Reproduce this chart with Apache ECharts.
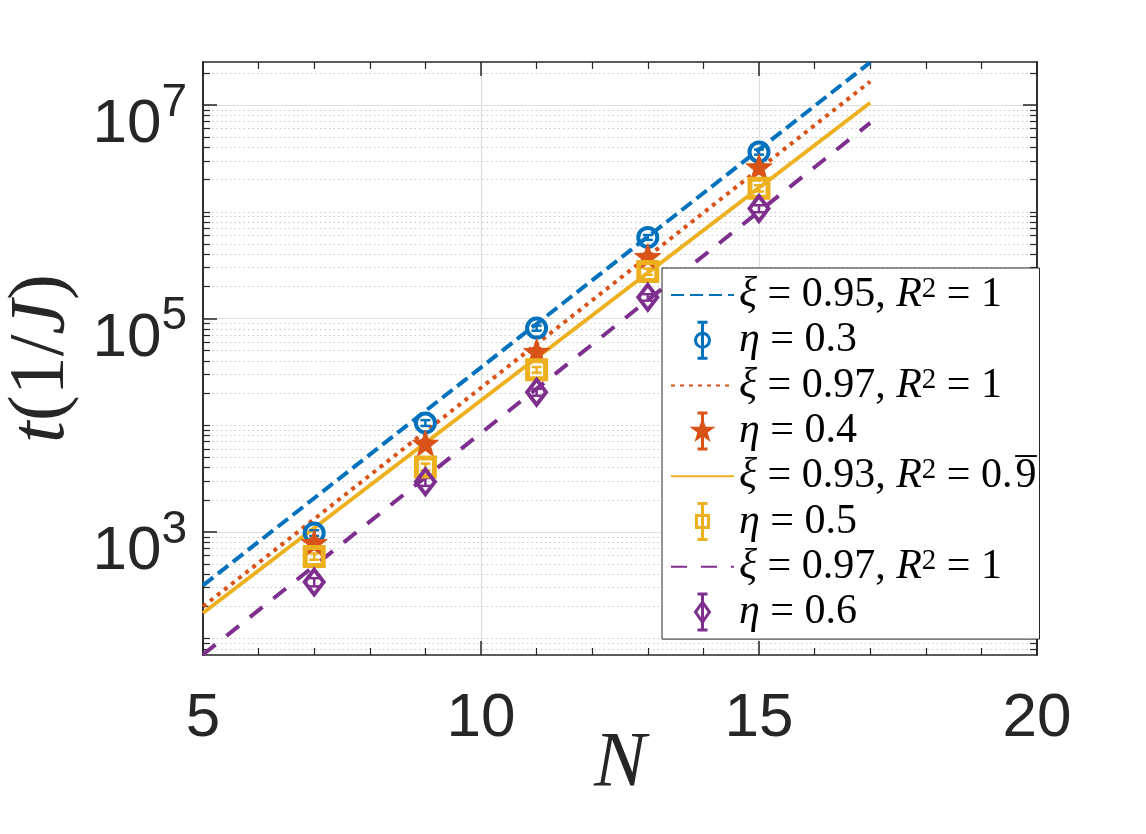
<!DOCTYPE html>
<html>
<head>
<meta charset="utf-8">
<script src="https://cdn.jsdelivr.net/npm/echarts@6/dist/echarts.min.js"></script>
<style>
  html, body { margin: 0; padding: 0; background: #fff; }
  #chart-main { width: 1146px; height: 834px; }
</style>
</head>
<body>
<div id="chart-main"></div>
<script>
const chartDom = document.getElementById('chart-main');
const myChart = echarts.init(chartDom);

// system sizes where the runs were done
const sizes = [7, 9, 11, 13, 15];
const tEta03 = [977, 10500, 81300, 575000, 3630000];
const tEta04 = [794, 6760, 49000, 380000, 2630000];
const tEta05 = [589, 4070, 33100, 275000, 1660000];
const tEta06 = [339, 2950, 20400, 158000, 1070000];
// error bar half widths (mostly hidden behind the markers)
const errEta03 = [60, 650, 4500, 30000, 200000];
const errEta04 = [70, 500, 3500, 25000, 180000];
const errEta05 = [40, 300, 2000, 18000, 110000];
const errEta06 = [30, 250, 1500, 11000, 80000];

// exponential fits, value at both ends of the fit range
const fitN = [5, 17];
const fitXi095 = [316, 25100000];
const fitXi097a = [200, 16600000];
const fitXi093 = [174, 10500000];
const fitXi097b = [71, 6800000];

// axis ticks
const xMajor = [5, 10, 15, 20];
const yMajor = [1e3, 1e5, 1e7];
const yMin = 70.3;
const yMax = 2.53e7;
// minor ticks: 2..9 x 10^n plus the unlabelled decades
const yMinor = [];
for (let e = 1; e <= 7; e++) {
    for (let k = 1; k <= 9; k++) {
        const v = k * Math.pow(10, e);
        if (v >= yMin && v <= yMax && yMajor.indexOf(v) < 0) yMinor.push(v);
    }
}

const blue = '#0072BD', orange = '#D95319', yellow = '#EDB120', purple = '#7E2F8E';
const axisColor = '#262626';
const serif = '"Liberation Serif", "DejaVu Serif", serif';
const sans = '"Liberation Sans", Arial, sans-serif';

const starPath = 'path://M0,-10L2.35,-3.24L9.51,-3.09L3.8,1.24L5.88,8.09L0,4L-5.88,8.09L-3.8,1.24L-9.51,-3.09L-2.35,-3.24Z';

// legend icons: marker + vertical error bar
const barPart = 'M0,-18L0,18M-5,-18L5,-18M-5,18L5,18';
const iconCircle = 'path://' + barPart + 'M-7,0A7,7,0,1,1,7,0A7,7,0,1,1,-7,0Z';
const iconStar = 'path://' + barPart + 'M0,-9L2.1,-2.9L8.6,-2.8L3.4,1.1L5.3,7.3L0,3.6L-5.3,7.3L-3.4,1.1L-8.6,-2.8L-2.1,-2.9Z';
const iconSquare = 'path://' + barPart + 'M-6,-6L6,-6L6,6L-6,6Z';
const iconDiamond = 'path://' + barPart + 'M0,-10L7,0L0,10L-7,0Z';

// {o|} is a zero-width bar drawn over the following 9 (repeating decimal)
const legendLabels = {
    'fit1': '{i|ξ}{n| = 0.95, }{i|R}{s|2}{n| = 1}',
    'eta1': '{i|η}{n| = 0.3}',
    'fit2': '{i|ξ}{n| = 0.97, }{i|R}{s|2}{n| = 1}',
    'eta2': '{i|η}{n| = 0.4}',
    'fit3': '{i|ξ}{n| = 0.93, }{i|R}{s|2}{n| = 0.}{o|\u00AF}{n|9}',
    'eta3': '{i|η}{n| = 0.5}',
    'fit4': '{i|ξ}{n| = 0.97, }{i|R}{s|2}{n| = 1}',
    'eta4': '{i|η}{n| = 0.6}'
};

function fitSeries(name, values, color, dash) {
    return {
        name: name,
        type: 'line',
        symbol: 'none',
        data: fitN.map((n, i) => [n, values[i]]),
        lineStyle: { color: color, width: 4, type: dash },
        itemStyle: { color: color },
        z: 2
    };
}

function errorSeries(name, values, errs, color) {
    return {
        name: name,
        type: 'custom',
        data: sizes.map((n, i) => [n, values[i] - errs[i], values[i] + errs[i]]),
        encode: { x: 0, y: [1, 2] },
        itemStyle: { color: color },
        z: 3,
        renderItem: function (params, api) {
            const lo = api.coord([api.value(0), api.value(1)]);
            const hi = api.coord([api.value(0), api.value(2)]);
            const w = 5;
            const style = { stroke: color, lineWidth: 2.5, fill: null };
            return {
                type: 'group',
                children: [
                    { type: 'line', shape: { x1: lo[0], y1: lo[1], x2: hi[0], y2: hi[1] }, style: style },
                    { type: 'line', shape: { x1: lo[0] - w, y1: lo[1], x2: lo[0] + w, y2: lo[1] }, style: style },
                    { type: 'line', shape: { x1: hi[0] - w, y1: hi[1], x2: hi[0] + w, y2: hi[1] }, style: style }
                ]
            };
        }
    };
}

function markerSeries(name, values, symbol, size, itemStyle) {
    return {
        name: name,
        type: 'scatter',
        symbol: symbol,
        symbolSize: size,
        data: sizes.map((n, i) => [n, values[i]]),
        itemStyle: Object.assign({ opacity: 1 }, itemStyle),
        z: 4
    };
}

const clear = 'rgba(0,0,0,0)';

const series = [
    fitSeries('fit1', fitXi095, blue, [13, 6]),
    errorSeries('eta1', tEta03, errEta03, blue),
    markerSeries('eta1', tEta03, 'circle', 19, { color: clear, borderColor: blue, borderWidth: 4 }),
    fitSeries('fit2', fitXi097a, orange, [4, 5]),
    errorSeries('eta2', tEta04, errEta04, orange),
    markerSeries('eta2', tEta04, starPath, 26, { color: orange, borderColor: orange, borderWidth: 1 }),
    fitSeries('fit3', fitXi093, yellow, 'solid'),
    errorSeries('eta3', tEta05, errEta05, yellow),
    markerSeries('eta3', tEta05, 'rect', 18, { color: clear, borderColor: yellow, borderWidth: 5 }),
    fitSeries('fit4', fitXi097b, purple, [16, 14]),
    errorSeries('eta4', tEta06, errEta06, purple),
    markerSeries('eta4', tEta06, 'diamond', [19, 25], { color: clear, borderColor: purple, borderWidth: 4 })
];

const tickLine = { color: axisColor, width: 1.5 };

function xAxisDef(pos, withLabels) {
    return {
        type: 'value', position: pos, min: 5, max: 20, interval: 5,
        axisLine: { show: true, onZero: false, lineStyle: tickLine },
        axisTick: { inside: true, length: 14, lineStyle: tickLine },
        minorTick: { show: true, splitNumber: 5, length: 7, lineStyle: { color: axisColor, width: 1.2 } },
        axisLabel: {
            show: withLabels, fontSize: 62, fontFamily: sans, color: axisColor, margin: 33,
            customValues: xMajor
        },
        splitLine: { show: withLabels, lineStyle: { color: '#dedede', width: 1.2 } },
        name: withLabels ? 'N' : '',
        nameLocation: 'middle',
        nameMoveOverlap: false,
        nameGap: 70,
        nameTextStyle: { fontFamily: serif, fontStyle: 'italic', fontSize: 78, color: axisColor }
    };
}

function yAxisDef(pos, major, withLabels) {
    const vals = major ? yMajor : yMinor;
    return {
        type: 'log', position: pos, min: yMin, max: yMax, logBase: 10,
        axisLine: { show: true, onZero: false, lineStyle: tickLine },
        axisTick: { inside: true, length: major ? 14 : 7, customValues: vals, lineStyle: { color: axisColor, width: major ? 1.5 : 1.2 } },
        axisLabel: {
            show: withLabels, customValues: yMajor, margin: 16,
            formatter: v => '{b|10}{s|' + Math.round(Math.log10(v)) + '}',
            rich: {
                b: { fontSize: 62, fontFamily: sans, color: axisColor, lineHeight: 62, padding: [40, 0, 0, 0] },
                s: { fontSize: 46, fontFamily: sans, color: axisColor, lineHeight: 46, verticalAlign: 'top', padding: [6, 0, 0, 0] }
            }
        },
        splitLine: {
            show: pos === 'left',
            lineStyle: major ? { color: '#dedede', width: 1.2 } : { color: '#c8c8c8', width: 1.2, type: [1.5, 3] }
        },
        name: withLabels ? '{i|t}{n|(1/}{i|J}{n|)}' : '',
        nameLocation: 'middle',
        nameGap: 122,
        nameTextStyle: {
            rich: {
                i: { fontFamily: serif, fontStyle: 'italic', fontSize: 78, color: axisColor },
                n: { fontFamily: serif, fontSize: 78, color: axisColor }
            }
        }
    };
}

const legendRich = {
    i: { fontFamily: serif, fontStyle: 'italic', fontSize: 42, lineHeight: 40, color: '#000' },
    n: { fontFamily: serif, fontSize: 42, lineHeight: 40, color: '#000' },
    o: { fontFamily: serif, fontSize: 42, lineHeight: 40, width: 0, padding: [0, 0, 0, 3], color: '#000' },
    s: { fontFamily: serif, fontSize: 29, lineHeight: 20, verticalAlign: 'top', color: '#000' }
};

function legendMarker(name, icon, color, fill) {
    return { name: name, icon: icon, itemStyle: { color: fill, borderColor: color, borderWidth: 3 } };
}

// line entries: hide the symbol that the line legend icon adds
function legendLine(name) {
    return { name: name, itemStyle: { opacity: 0 } };
}

const option = {
    animation: false,
    backgroundColor: '#fff',
    grid: { left: 203, top: 62, right: 109, bottom: 179, containLabel: false, outerBoundsMode: 'none' },
    xAxis: [xAxisDef('bottom', true), xAxisDef('top', false)],
    yAxis: [
        yAxisDef('left', true, true),
        yAxisDef('left', false, false),
        yAxisDef('right', true, false),
        yAxisDef('right', false, false)
    ],
    legend: {
        orient: 'vertical',
        left: 662,
        top: 268,
        padding: [6, 3, 6, 8],
        itemWidth: 63,
        itemHeight: 36,
        itemGap: 3.3,
        backgroundColor: '#fff',
        borderColor: axisColor,
        borderWidth: 1,
        selectedMode: false,
        textStyle: { fontFamily: serif, fontSize: 42, lineHeight: 40, color: '#000', rich: legendRich },
        formatter: name => legendLabels[name],
        data: [
            legendLine('fit1'),
            legendMarker('eta1', iconCircle, blue, clear),
            legendLine('fit2'),
            legendMarker('eta2', iconStar, orange, orange),
            legendLine('fit3'),
            legendMarker('eta3', iconSquare, yellow, clear),
            legendLine('fit4'),
            legendMarker('eta4', iconDiamond, purple, clear)
        ]
    },
    series: series
};

myChart.setOption(option);
</script>
</body>
</html>
